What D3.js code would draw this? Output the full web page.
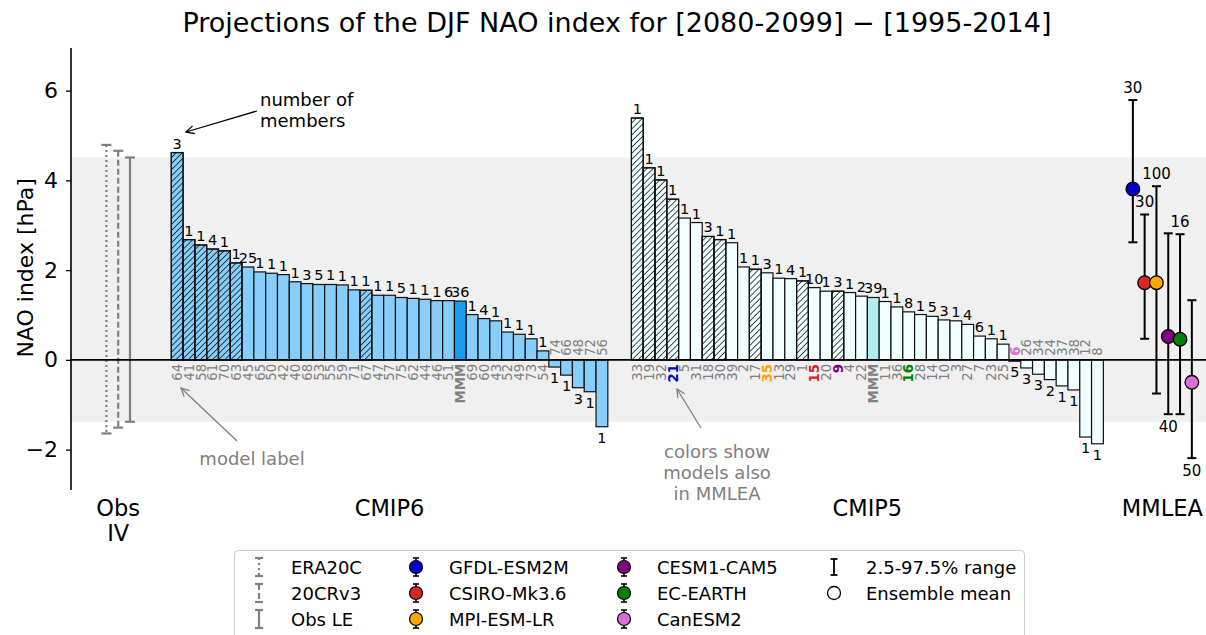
<!DOCTYPE html>
<html>
<head>
<meta charset="utf-8">
<script src="https://cdn.jsdelivr.net/npm/d3@7"></script>
<style>
  body { margin: 0; background: #fff; }
  svg { font-family: "DejaVu Sans", sans-serif; }
</style>
</head>
<body>
<div id="chart"></div>
<script>
// ---- data ----
var obsNames = ["ERA20C", "20CRv3", "Obs LE"];
var obsHigh = [4.79, 4.66, 4.51];
var obsLow = [-1.64, -1.51, -1.38];
var obsDash = ["2,3", "6,3", null];

var cmip6Labels = ["64","41","58","61","70","63","45","65","50","42","40","68","53","55","59","71","67","47","57","75","62","44","46","51","MMM","69","60","43","52","49","73","54","74","66","48","72","56"];
var cmip6Values = [4.62,2.68,2.56,2.47,2.43,2.16,2.07,1.96,1.93,1.90,1.74,1.70,1.68,1.68,1.67,1.56,1.55,1.44,1.44,1.39,1.37,1.35,1.32,1.32,1.31,1.01,0.92,0.87,0.62,0.57,0.47,0.20,-0.16,-0.34,-0.62,-0.71,-1.49];
var cmip6Counts = [3,1,1,4,1,1,25,1,1,1,1,3,5,1,1,1,1,1,1,5,1,1,1,6,36,1,4,1,1,1,1,1,1,1,3,1,1];
var cmip6Hatched = [0,1,2,3,4,5,16];

var cmip5Labels = ["33","19","32","21","5","31","18","30","39","2","17","35","13","29","1","15","20","9","4","22","MMM","11","36","16","28","14","10","3","27","7","23","25","6","26","34","24","37","38","12","8"];
var cmip5Values = [5.39,4.28,4.01,3.58,3.16,3.06,2.75,2.68,2.61,2.07,2.02,1.94,1.82,1.81,1.76,1.61,1.53,1.53,1.50,1.42,1.39,1.30,1.18,1.07,1.01,0.97,0.89,0.87,0.79,0.53,0.47,0.35,-0.03,-0.18,-0.32,-0.44,-0.58,-0.67,-1.72,-1.87];
var cmip5Counts = [1,1,1,1,1,1,3,1,1,1,1,3,1,4,1,10,1,3,1,2,39,1,1,8,1,5,3,1,4,6,1,1,5,3,3,2,1,1,1,1];
var cmip5Hatched = [0,1,2,3,6,7,10,14,17];

var mmleaModels = ["GFDL-ESM2M","CSIRO-Mk3.6","MPI-ESM-LR","CESM1-CAM5","EC-EARTH","CanESM2"];
var mmleaMean = [3.81, 1.72, 1.72, 0.52, 0.46, -0.50];
var mmleaLow = [2.62, 0.47, -0.75, -1.21, -1.21, -2.19];
var mmleaHigh = [5.79, 3.24, 3.87, 2.82, 2.80, 1.33];
var mmleaMembers = [30, 30, 100, 40, 16, 50];
var mmleaColors = ["#0000cd", "#d62728", "#ffa500", "#800080", "#008000", "#da70d6"];
var mmleaCmip5Label = ["21", "15", "35", "9", "16", "6"];

var groupNames = ["Obs\nIV", "CMIP6", "CMIP5", "MMLEA"];
var yTicks = [-2, 0, 2, 4, 6];

// ---- layout ----
var width = 1206, height = 635;
var obsPos = [3, 4, 5], cmip6Start = 9, cmip5Start = 48, mmleaStart = 90;
var groupPos = [4, 27, 67.5, 92.5];
// members count drawn under the bar for these MMLEA entries
var mmleaCountBelow = [3, 5];

var svg = d3.select("#chart").append("svg")
    .attr("width", width)
    .attr("height", height);

var x = d3.scaleLinear().domain([0, 96.2]).range([71, 1206]);
var y = d3.scaleLinear().domain([-2.9, 6.95]).range([490, 48]);
var bw = x(1) - x(0);

var defs = svg.append("defs");
defs.append("pattern")
    .attr("id", "hatch")
    .attr("patternUnits", "userSpaceOnUse")
    .attr("width", 4.3).attr("height", 4.3)
    .attr("patternTransform", "rotate(45)")
  .append("line")
    .attr("x1", 0).attr("y1", 0).attr("x2", 0).attr("y2", 4.3)
    .attr("stroke", "#000").attr("stroke-width", 1.4);

function marker(id, color) {
  defs.append("marker")
      .attr("id", id)
      .attr("viewBox", "0 0 10 10")
      .attr("refX", 9).attr("refY", 5)
      .attr("markerWidth", 10).attr("markerHeight", 10)
      .attr("markerUnits", "userSpaceOnUse")
      .attr("orient", "auto")
    .append("path")
      .attr("d", "M1,1 L9,5 L1,9")
      .attr("fill", "none")
      .attr("stroke", color)
      .attr("stroke-width", 1.3);
}
marker("arrowBlack", "#000");
marker("arrowGray", "#808080");

// grey band = Obs LE range
svg.append("rect")
    .attr("x", x(0)).attr("width", x(96.2) - x(0))
    .attr("y", y(obsHigh[2])).attr("height", y(obsLow[2]) - y(obsHigh[2]))
    .attr("fill", "#f0f0f0");

// title
svg.append("text")
    .attr("x", 617).attr("y", 32)
    .attr("text-anchor", "middle")
    .attr("font-size", 27)
    .text("Projections of the DJF NAO index for [2080-2099] \u2212 [1995-2014]");

// y axis
var yAxis = svg.append("g")
    .attr("transform", "translate(" + x(0) + ",0)")
    .call(d3.axisLeft(y).tickValues(yTicks).tickSize(5).tickPadding(8));
yAxis.select(".domain").attr("d", "M0," + y(6.95) + "V" + y(-2.9)).attr("stroke-width", 1.6);
yAxis.selectAll(".tick line").attr("stroke-width", 1.3);
yAxis.selectAll(".tick text").attr("font-size", 22).attr("font-family", "DejaVu Sans");

svg.append("text")
    .attr("transform", "translate(33," + y(2.05) + ") rotate(-90)")
    .attr("text-anchor", "middle")
    .attr("font-size", 22)
    .text("NAO index [hPa]");

// obs IV error bars
obsNames.forEach(function(n, i) {
  var cx = x(obsPos[i]);
  svg.append("line")
      .attr("x1", cx).attr("x2", cx)
      .attr("y1", y(obsHigh[i])).attr("y2", y(obsLow[i]))
      .attr("stroke", "#808080").attr("stroke-width", 2.2)
      .attr("stroke-dasharray", obsDash[i]);
  [obsHigh[i], obsLow[i]].forEach(function(v) {
    svg.append("line")
        .attr("x1", cx - 5).attr("x2", cx + 5)
        .attr("y1", y(v)).attr("y2", y(v))
        .attr("stroke", "#808080").attr("stroke-width", 2.2);
  });
});

// bar groups
function drawBars(labels, values, counts, hatched, start, fill, mmmFill) {
  var g = svg.append("g");
  var data = values.map(function(v, i) {
    return { i: i, v: v, label: labels[i], n: counts[i], hatch: hatched.indexOf(i) >= 0 };
  });
  g.selectAll(".bar").data(data).enter().append("rect")
      .attr("class", "bar")
      .attr("x", function(d) { return x(start + d.i - 0.5); })
      .attr("width", bw)
      .attr("y", function(d) { return y(Math.max(0, d.v)); })
      .attr("height", function(d) { return Math.abs(y(d.v) - y(0)); })
      .attr("fill", function(d) { return d.label === "MMM" ? mmmFill : fill; })
      .attr("stroke", "#111").attr("stroke-width", 1.2);
  g.selectAll(".hatch").data(data.filter(function(d) { return d.hatch; })).enter().append("rect")
      .attr("class", "hatch")
      .attr("x", function(d) { return x(start + d.i - 0.5); })
      .attr("width", bw)
      .attr("y", function(d) { return y(Math.max(0, d.v)); })
      .attr("height", function(d) { return Math.abs(y(d.v) - y(0)); })
      .attr("fill", "url(#hatch)")
      .attr("stroke", "#111").attr("stroke-width", 1.2);
  // member counts
  g.selectAll(".count").data(data).enter().append("text")
      .attr("class", "count")
      .attr("x", function(d) { return x(start + d.i); })
      .attr("y", function(d) { return d.v >= 0 ? y(d.v) - 4 : y(d.v) + 16; })
      .attr("text-anchor", "middle")
      .attr("font-size", 14.5)
      .text(function(d) { return d.n; });
  // model labels
  g.selectAll(".mlabel").data(data).enter().append("text")
      .attr("class", "mlabel")
      .attr("transform", function(d) {
        var ty = d.v >= 0 ? y(0) + 4 : y(0) - 4;
        return "translate(" + (x(start + d.i) + 4.8) + "," + ty + ") rotate(-90)";
      })
      .attr("text-anchor", function(d) { return d.v >= 0 ? "end" : "start"; })
      .attr("font-size", 13.3)
      .attr("font-weight", function(d) {
        return (d.label === "MMM" || (start === cmip5Start && mmleaCmip5Label.indexOf(d.label) >= 0)) ? "bold" : "normal";
      })
      .attr("fill", function(d) {
        var k = mmleaCmip5Label.indexOf(d.label);
        return (start === cmip5Start && k >= 0) ? mmleaColors[k] : "#808080";
      })
      .text(function(d) { return d.label; });
}

drawBars(cmip6Labels, cmip6Values, cmip6Counts, cmip6Hatched, cmip6Start, "#87cefa", "#189cf0");
drawBars(cmip5Labels, cmip5Values, cmip5Counts, cmip5Hatched, cmip5Start, "#f0ffff", "#afeeee");

// zero line
svg.append("line")
    .attr("x1", x(0)).attr("x2", x(96.2))
    .attr("y1", y(0)).attr("y2", y(0))
    .attr("stroke", "#000").attr("stroke-width", 1.6);

// MMLEA
mmleaModels.forEach(function(m, i) {
  var cx = x(mmleaStart + i);
  svg.append("line")
      .attr("x1", cx).attr("x2", cx)
      .attr("y1", y(mmleaHigh[i])).attr("y2", y(mmleaLow[i]))
      .attr("stroke", "#000").attr("stroke-width", 2);
  [mmleaHigh[i], mmleaLow[i]].forEach(function(v) {
    svg.append("line")
        .attr("x1", cx - 4.5).attr("x2", cx + 4.5)
        .attr("y1", y(v)).attr("y2", y(v))
        .attr("stroke", "#000").attr("stroke-width", 2);
  });
  var below = mmleaCountBelow.indexOf(i) >= 0;
  svg.append("text")
      .attr("x", cx)
      .attr("y", below ? y(mmleaLow[i]) + 18 : y(mmleaHigh[i]) - 7)
      .attr("text-anchor", "middle")
      .attr("font-size", 15)
      .text(mmleaMembers[i]);
});
mmleaModels.forEach(function(m, i) {
  svg.append("circle")
      .attr("cx", x(mmleaStart + i)).attr("cy", y(mmleaMean[i]))
      .attr("r", 6.8)
      .attr("fill", mmleaColors[i])
      .attr("stroke", "#000").attr("stroke-width", 1.3);
});

// group names
groupNames.forEach(function(n, i) {
  var t = svg.append("text")
      .attr("x", x(groupPos[i])).attr("y", 516)
      .attr("text-anchor", "middle")
      .attr("font-size", 22.5);
  n.split("\n").forEach(function(line, k) {
    t.append("tspan").attr("x", x(groupPos[i])).attr("dy", k === 0 ? 0 : 25).text(line);
  });
});

// annotations
svg.append("text").attr("x", 260).attr("y", 106).attr("font-size", 18).text("number of");
svg.append("text").attr("x", 260).attr("y", 127).attr("font-size", 18).text("members");
svg.append("line")
    .attr("x1", 257).attr("y1", 111).attr("x2", 186).attr("y2", 132)
    .attr("stroke", "#000").attr("stroke-width", 1.3)
    .attr("marker-end", "url(#arrowBlack)");

svg.append("text").attr("x", 252).attr("y", 465).attr("text-anchor", "middle")
    .attr("font-size", 18).attr("fill", "#808080").text("model label");
svg.append("line")
    .attr("x1", 237).attr("y1", 441).attr("x2", 181).attr("y2", 388)
    .attr("stroke", "#808080").attr("stroke-width", 1.3)
    .attr("marker-end", "url(#arrowGray)");

["colors show", "models also", "in MMLEA"].forEach(function(s, k) {
  svg.append("text").attr("x", 717).attr("y", 458 + k * 21).attr("text-anchor", "middle")
      .attr("font-size", 18).attr("fill", "#808080").text(s);
});
svg.append("line")
    .attr("x1", 701).attr("y1", 428).attr("x2", 677).attr("y2", 389)
    .attr("stroke", "#808080").attr("stroke-width", 1.3)
    .attr("marker-end", "url(#arrowGray)");

// legend
var leg = svg.append("g");
leg.append("rect")
    .attr("x", 234.5).attr("y", 550.5).attr("width", 790).attr("height", 100)
    .attr("rx", 4)
    .attr("fill", "#fff").attr("stroke", "#cccccc").attr("stroke-width", 1);
var rowY = [567, 593, 619];
function errIcon(cx, cy, color, dash, half, cap, sw) {
  leg.append("line").attr("x1", cx).attr("x2", cx).attr("y1", cy - half).attr("y2", cy + half)
      .attr("stroke", color).attr("stroke-width", sw).attr("stroke-dasharray", dash);
  [cy - half, cy + half].forEach(function(v) {
    leg.append("line").attr("x1", cx - cap).attr("x2", cx + cap).attr("y1", v).attr("y2", v)
        .attr("stroke", color).attr("stroke-width", sw);
  });
}
function legText(tx, ty, s) {
  leg.append("text").attr("x", tx).attr("y", ty + 6.5).attr("font-size", 18).text(s);
}
obsNames.forEach(function(n, i) {
  errIcon(259, rowY[i], "#808080", obsDash[i], 9, 4, 2.2);
  legText(291, rowY[i], n);
});
mmleaModels.forEach(function(m, i) {
  var cx = i < 3 ? 416 : 624, ty = rowY[i % 3];
  errIcon(cx, ty, "#000", null, 9, 3, 1.6);
  leg.append("circle").attr("cx", cx).attr("cy", ty).attr("r", 6.5)
      .attr("fill", mmleaColors[i]).attr("stroke", "#000").attr("stroke-width", 1.2);
  legText(cx + 33, ty, m);
});
errIcon(834, rowY[0], "#000", null, 8, 3.5, 1.8);
legText(866, rowY[0], "2.5-97.5% range");
leg.append("circle").attr("cx", 834).attr("cy", rowY[1]).attr("r", 6.5)
    .attr("fill", "#fff").attr("stroke", "#000").attr("stroke-width", 1.3);
legText(866, rowY[1], "Ensemble mean");
</script>
</body>
</html>
